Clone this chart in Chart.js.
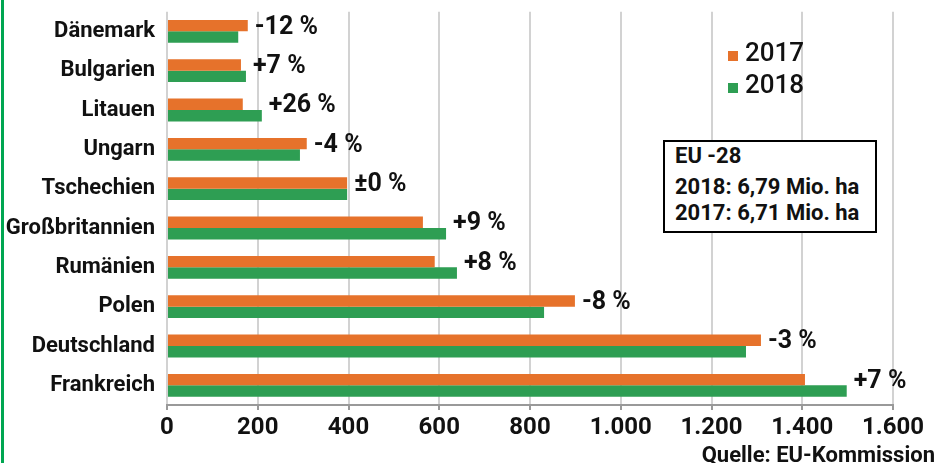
<!DOCTYPE html>
<html>
<head>
<meta charset="utf-8">
<script src="https://cdn.jsdelivr.net/npm/chart.js@4/dist/chart.umd.min.js"></script>
<style>
  html, body { margin: 0; padding: 0; background: #fff; }
  #wrap { position: relative; width: 940px; height: 463px; overflow: hidden; }
  #wrap:before { content: ""; position: absolute; left: 1px; top: 0; width: 3px; height: 463px; background: #00A651; }
  .narrow { font-family: Roboto, "Liberation Sans", sans-serif; color: #111; white-space: nowrap; }
  #legend { position: absolute; left: 728px; top: 36px; font-size: 26px; line-height: 32px; font-weight: 500; }
  #legend span.box { display: inline-block; width: 10px; height: 10px; margin-right: 7px; }
  #eubox { position: absolute; left: 663px; top: 140px; width: 200px; height: 88px; border: 2px solid #000;
           background: #fff; padding: 1px 0 0 10px; font-size: 22px; line-height: 26px; font-weight: bold; }
  #eubox .first { margin-bottom: 5px; }
  #source { position: absolute; right: 5px; top: 442px; font-size: 22px; font-weight: bold; }
</style>
</head>
<body>
<div id="wrap">
  <canvas id="chart" width="940" height="463"></canvas>
  <div id="legend" class="narrow"></div>
  <div id="eubox" class="narrow"><div class="first">EU -28</div><div>2018: 6,79 Mio. ha</div><div>2017: 6,71 Mio. ha</div></div>
  <div id="source" class="narrow">Quelle: EU-Kommission</div>
</div>
<script>
// Ackerfläche (1.000 ha), EU-Kommission
var countries = ['Dänemark', 'Bulgarien', 'Litauen', 'Ungarn', 'Tschechien', 'Großbritannien', 'Rumänien', 'Polen', 'Deutschland', 'Frankreich'];
var values2017 = [178, 163, 167, 308, 397, 564, 590, 899, 1309, 1406];
var values2018 = [157, 174, 209, 293, 397, 615, 639, 831, 1276, 1498];
var changes = ['-12 %', '+7 %', '+26 %', '-4 %', '±0 %', '+9 %', '+8 %', '-8 %', '-3 %', '+7 %'];
var xTicks = ['0', '200', '400', '600', '800', '1.000', '1.200', '1.400', '1.600'];

const ORANGE = '#E6722B';
const GREEN = '#2E9E53';
const FONT = 'Roboto, "Liberation Sans", sans-serif';

// percent labels next to each pair of bars
var changeLabels = {
  id: 'changeLabels',
  afterDatasetsDraw: function(chart) {
    var ctx = chart.ctx,
        xs = chart.scales.x,
        ys = chart.scales.y;
    ctx.save();
    ctx.font = 'bold 25px ' + FONT;
    ctx.fillStyle = '#111';
    ctx.textBaseline = 'middle';
    ctx.textAlign = 'left';
    for (var i = 0; i < countries.length; i++) {
      var v = Math.max(values2017[i], values2018[i]);
      ctx.fillText(changes[i], xs.getPixelForValue(v) + 7, ys.getPixelForValue(i) - 4);
    }
    ctx.restore();
  }
};

var chart = new Chart(document.getElementById('chart'), {
  type: 'bar',
  data: {
    labels: countries,
    datasets: [
      { label: '2017', data: values2017, backgroundColor: ORANGE },
      { label: '2018', data: values2018, backgroundColor: GREEN }
    ]
  },
  plugins: [changeLabels],
  options: {
    indexAxis: 'y',
    responsive: false,
    animation: false,
    layout: { padding: { top: 9, right: 47, left: 0, bottom: 0 } },
    datasets: { bar: { categoryPercentage: 0.58, barPercentage: 1 } },
    plugins: { legend: { display: false }, tooltip: { enabled: false } },
    scales: {
      x: {
        min: 0, max: 1600,
        ticks: {
          stepSize: 200,
          color: '#111',
          padding: 4,
          font: { family: FONT, size: 24, weight: 'bold' },
          callback: function(v) { return xTicks[v / 200]; }
        },
        grid: { color: '#d2d2d2', lineWidth: 2, tickColor: '#999', tickLength: 5 },
        border: { color: '#999', width: 2 },
        afterFit: function(s) { s.height = 58; }
      },
      y: {
        ticks: {
          color: '#111',
          padding: 4,
          font: { family: FONT, size: 22, weight: 'bold', lineHeight: 0.7 }
        },
        grid: { display: false },
        border: { display: false },
        afterFit: function(s) { s.width = 167; }
      }
    }
  }
});

// legend from the datasets
var legend = document.getElementById('legend');
chart.data.datasets.forEach(function(ds) {
  var row = document.createElement('div');
  row.innerHTML = '<span class="box" style="background:' + ds.backgroundColor + '"></span>' + ds.label;
  legend.appendChild(row);
});
</script>
</body>
</html>
